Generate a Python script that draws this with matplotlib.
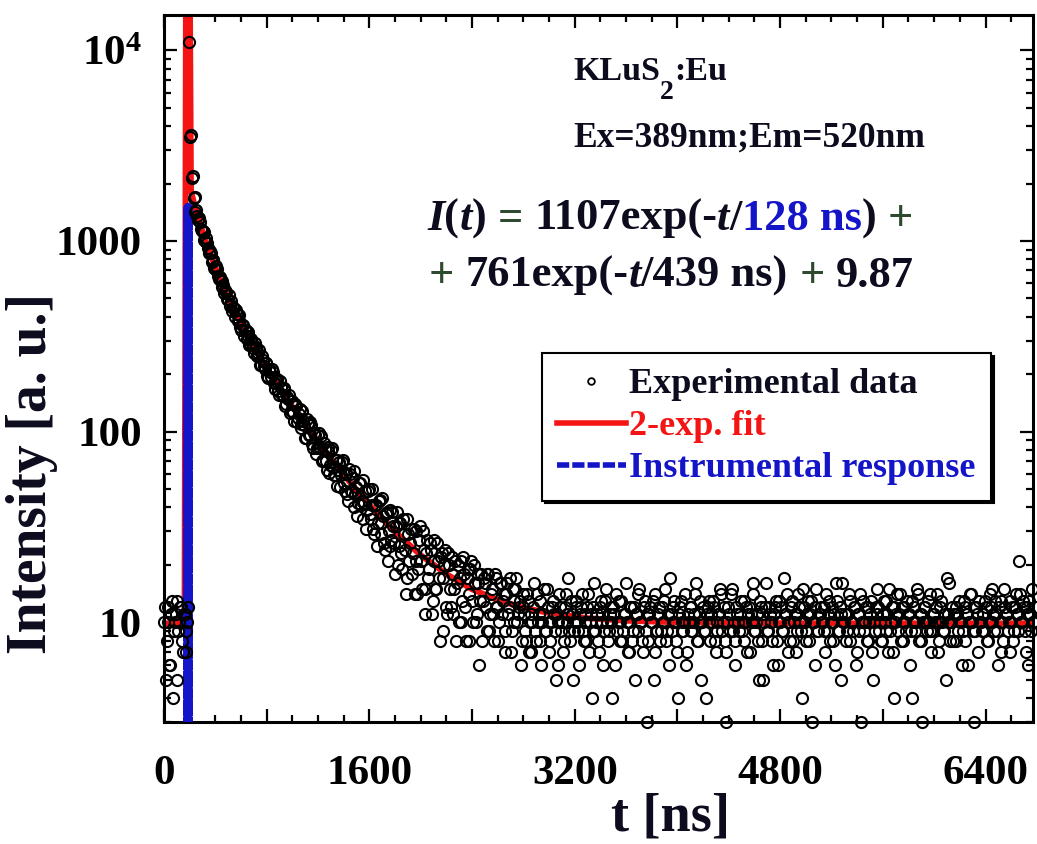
import numpy as np
import matplotlib
matplotlib.use('Agg')
import matplotlib.pyplot as plt
from matplotlib.lines import Line2D
from matplotlib.ticker import MultipleLocator, FuncFormatter, LogLocator, NullFormatter

# --- donnees ---
# canaux de 7 ns : canaux pairs (t = 0, 14, 28 ...) et impairs (t = 7, 21, 35 ...)
pas_ns = 14
avant_pic = [10, 5, 12, 6, 11, 4, 10, 13, 9, 12, 8, 11, 7, 10]
declin = [11000, 3600, 2200, 1700,
          1450, 1290, 1250, 1130, 1120, 1000, 970, 860, 865, 792, 725, 735,
          655, 645, 572, 590, 550, 497, 519, 466, 428, 443, 436, 379,
          381, 340, 362, 341, 305, 331, 289, 290, 257, 279, 252, 267,
          224, 238, 214, 228, 191, 205, 213, 179, 180, 188, 156, 172,
          155, 169, 140, 149, 125, 144, 127, 139, 112, 124, 110, 128,
          108, 93, 111, 96, 108, 82, 96, 82, 98, 82, 70, 87,
          70, 79, 61, 80, 65, 59, 71, 63, 51, 69, 54, 60,
          47, 64, 49, 57, 40, 51, 42, 54, 43, 35, 49, 39,
          50, 35, 41, 29, 41, 33, 44, 29, 36, 24, 38, 30,
          25, 38, 26, 32, 20, 33, 23, 35, 24, 17, 29, 26,
          18, 31, 21, 14, 27, 21, 30, 15, 23, 17, 26, 11,
          21, 15, 26, 17, 22, 9, 20, 12, 23, 15, 18, 11,
          21, 16, 10, 21, 13, 18, 8, 19, 14, 21, 10, 16,
          11, 18, 13, 8, 17, 12, 18, 9, 14, 11, 18, 12,
          8, 16, 11, 14, 9, 16, 12, 7, 15, 10, 17, 11, 13, 8]
fond = [12, 9, 14, 7, 11, 10, 16, 8, 10, 13, 6, 11, 9, 15, 10,
        8, 12, 11, 5, 10, 14, 9, 7, 12, 10, 17, 8, 11, 9, 13,
        10, 6, 12, 9, 11, 8, 14, 10, 4, 12, 9, 11, 7, 13, 10,
        9, 15, 8, 11, 10, 12, 6, 9, 13, 10, 8, 11, 16, 7, 10,
        12, 9, 5, 11, 14, 10, 8, 12, 9, 3, 11, 10, 13, 7, 9,
        11, 8, 12, 10, 15, 9, 6, 11, 10, 13, 8, 4, 12, 10, 9,
        14, 7, 10, 12, 9, 11, 16, 8, 10, 5, 12, 9, 11, 13, 8,
        10, 12, 7, 9, 11, 14, 10, 8, 3, 12, 9, 15, 10, 6, 11,
        9, 13, 10, 8, 12, 11, 7, 10, 14, 9, 11, 5, 12, 8, 10,
        16, 9, 11, 10, 6, 12, 8, 13, 10, 9, 17, 11, 7, 10, 12,
        8, 11, 9, 14, 10, 4, 12, 9, 11, 8, 13, 10, 6, 15, 9,
        11, 10, 12, 7, 9, 13, 10, 8, 11, 16, 9, 12, 5, 10, 11,
        9, 14, 8, 10, 12, 6, 11, 9, 3, 13, 10, 8, 12, 11, 7,
        10, 12, 15, 9, 8, 11, 10, 13, 7, 9, 12, 4, 10, 14, 11,
        8, 10, 12, 9, 11, 6, 13, 10, 9, 15, 8, 11, 3, 12, 10,
        13, 9, 7, 11, 10, 14, 8, 12, 10, 9, 5, 11, 16, 10, 8,
        11, 12, 9, 10, 6, 13, 8, 11, 10, 14, 9, 3, 12, 7, 10,
        9, 11, 13, 8, 10, 12, 15, 9, 11, 6, 10, 13, 8, 12, 11,
        10, 7, 12, 9, 14, 11, 21, 10, 13, 9, 12, 6, 11, 15, 10]

avant_pic_b = [12, 8, 10, 6, 13, 9, 11, 5, 10, 12, 7, 11, 9, 12]
declin_b = [3500, 2150, 1680, 1420,
            1350, 1320, 1150, 1130, 1015, 1030, 913, 884, 775, 793, 712, 716,
            631, 623, 615, 536, 542, 491, 453, 483, 444, 399, 415, 409,
            355, 362, 317, 340, 318, 285, 307, 273, 290, 248, 257, 223,
            248, 220, 230, 196, 212, 194, 206, 168, 184, 164, 185, 156,
            166, 137, 151, 156, 128, 139, 114, 136, 118, 131, 105, 114,
            93, 116, 96, 112, 86, 98, 76, 96, 83, 95, 71, 81,
            63, 83, 67, 82, 59, 71, 52, 69, 59, 71, 49, 61,
            43, 60, 48, 62, 47, 36, 54, 41, 56, 42, 31, 49,
            37, 50, 31, 41, 25, 43, 33, 45, 26, 37, 21, 39,
            27, 32, 18, 38, 25, 33, 19, 29, 14, 35, 21, 31,
            23, 14, 30, 19, 32, 15, 24, 11, 27, 19, 24, 13,
            27, 15, 21, 8, 23, 17, 24, 11, 20, 12, 22, 15,
            8, 20, 17, 10, 22, 12, 17, 8, 19, 13, 20, 10,
            16, 6, 18, 13, 16, 9, 18,
            11, 15, 8, 17, 12, 10, 16, 13, 7, 14, 11, 17, 9, 13, 15, 10, 12, 6, 14]
fond_b = [11, 8, 13, 10, 7, 12, 9, 14, 11, 8, 10, 15, 9, 12, 7,
          10, 13, 9, 11, 6, 12, 10, 8, 14, 11, 9, 13, 5, 10, 12,
          9, 11, 14, 8, 10, 12, 7, 11, 9, 16, 10, 8, 12, 11, 6,
          13, 10, 9, 12, 4, 11, 14, 10, 8, 13, 9, 11, 10, 7, 12,
          8, 12, 11, 9, 15, 10, 7, 13, 11, 8, 12, 10, 5, 14, 9,
          12, 9, 10, 13, 8, 11, 17, 9, 12, 10, 7, 11, 13, 9, 10,
          6, 11, 12, 9, 10, 14, 8, 11, 13, 10, 9, 4, 12, 10, 11,
          13, 8, 10, 11, 15, 9, 12, 7, 10, 11, 14, 9, 8, 12, 10,
          11, 9, 13, 10, 7, 12, 11, 16, 9, 10, 8, 13, 11, 5, 12,
          9, 12, 10, 8, 11, 13, 6, 10, 12, 9, 11, 14, 10, 8, 13,
          10, 7, 11, 12, 9, 15, 10, 8, 13, 11, 3, 10, 12, 9, 11,
          12, 10, 9, 14, 11, 8, 12, 10, 6, 13, 9, 11, 16, 10, 8,
          11, 13, 10, 9, 12, 7, 11, 14, 10, 9, 12, 8, 10, 13, 5,
          9, 11, 12, 10, 8, 13, 9, 11, 15, 10, 7, 12, 11, 9, 14,
          12, 8, 10, 13, 11, 9, 4, 12, 10, 14, 11, 8, 10, 12, 9,
          10, 14, 9, 11, 12, 7, 10, 13, 9, 11, 17, 10, 8, 12, 11,
          8, 11, 13, 10, 9, 12, 11, 6, 14, 10, 12, 9, 11, 13, 10,
          11, 9, 12, 8, 14, 10, 11, 13, 9, 12, 7, 10, 15, 11, 9,
          13, 10, 8, 12, 11, 9, 14, 10, 12, 7, 11, 13, 9, 10, 12]

comptes = avant_pic + declin + fond
comptes_b = avant_pic_b + declin_b + fond_b
t_mes = np.arange(len(comptes)) * pas_ns
t_mes_b = np.arange(len(comptes_b)) * pas_ns + pas_ns / 2

# courbe d'ajustement (2 exponentielles)
t_fit = [0, 160, 172, 200, 210, 240, 280, 330, 400, 470, 540, 620, 700, 800, 900,
         1000, 1100, 1200, 1300, 1400, 1500, 1600, 1800, 2000, 2200, 2400, 2600,
         2800, 3000, 3300, 3600, 4000, 4500, 5000, 6000, 6800]
I_fit = [9.87, 9.87, 30000, 30000, 1830, 1515, 1237, 977, 725, 555, 439, 344, 276, 214, 169,
         135, 109, 88.5, 72, 59.5, 49.3, 41.2, 29.8, 22.5, 17.9, 14.9, 13.1,
         11.9, 11.2, 10.5, 10.2, 10.0, 9.93, 9.87, 9.87, 9.87]

# reponse instrumentale
t_irf = [186, 187, 188]
I_irf = [1, 1500, 1]

rouge = '#f41414'
bleu = '#1414c8'
noir = '#0c0c1e'
vert = '#2e4a2e'

plt.rcParams['font.family'] = 'Liberation Serif'
plt.rcParams['font.weight'] = 'bold'
plt.rcParams['mathtext.fontset'] = 'custom'
plt.rcParams['mathtext.rm'] = 'Liberation Serif:bold'
plt.rcParams['mathtext.bf'] = 'Liberation Serif:bold'
plt.rcParams['mathtext.it'] = 'Liberation Serif:italic:bold'

W, H = 1037, 844
fig = plt.figure(figsize=(W / 100, H / 100), dpi=100)
ax = fig.add_axes([164 / W, 1 - 722 / H, (1033 - 164) / W, (722 - 15) / H])

ax.plot(t_fit, I_fit, color=rouge, lw=4.3, zorder=2)
ax.plot(t_irf, I_irf, color=bleu, lw=6.6, ls=(0, (3.0, 0.12)), zorder=3)
style_pts = dict(ls='none', marker='o', ms=8.0, mfc='none', mec='black', mew=1.5,
                 clip_on=False, zorder=4)
ax.plot(t_mes, comptes, **style_pts)
ax.plot(t_mes_b, comptes_b, **style_pts)

ax.set_yscale('log')
ax.set_xlim(0, 6770)
ax.set_ylim(3.0, 15300)

ax.xaxis.set_major_locator(MultipleLocator(800))
ax.xaxis.set_minor_locator(MultipleLocator(200))
ax.xaxis.set_major_formatter(FuncFormatter(lambda v, p: '%d' % v if round(v) % 1600 == 0 else ''))
ax.yaxis.set_major_locator(LogLocator(base=10, numticks=10))
ax.yaxis.set_minor_locator(LogLocator(base=10, subs=range(2, 10), numticks=20))
ax.yaxis.set_minor_formatter(NullFormatter())
etiq_y = {10: '10', 100: '100', 1000: '1000', 10000: r'$\mathbf{10^4}$'}
ax.yaxis.set_major_formatter(FuncFormatter(lambda v, p: etiq_y.get(int(round(v)), '')))

ax.tick_params(which='both', direction='in', top=True, right=True, width=1.6, colors='black')
ax.tick_params(which='major', length=9.5, labelsize=31)
ax.tick_params(which='minor', length=5)
ax.tick_params(axis='x', pad=24)
ax.tick_params(axis='y', pad=16)
for s in ax.spines.values():
    s.set_linewidth(2.2)

fig.text(32 / W, 1 - 473 / H, 'Intensity [a. u.]', rotation=90, ha='center', va='center',
         fontsize=40, color=noir)
fig.text(611 / W, 1 - 842 / H, 't [ns]', ha='left', va='bottom', fontsize=39, color=noir)

rend = fig.canvas.get_renderer()


def ligne_couleurs(x, y, morceaux, taille):
    # place les morceaux de texte les uns a la suite des autres
    # morceau : (texte, couleur, italique[, decalage vertical px, taille])
    xf = x / W
    for m in morceaux:
        s, c, ital = m[:3]
        dy = m[3] if len(m) > 3 else 0
        tl = m[4] if len(m) > 4 else taille
        if s == ' ':
            xf += 0.25 * tl * 100 / 72 / W
            continue
        txt = fig.text(xf, 1 - (y + dy) / H, s, color=c, fontsize=tl, va='baseline', ha='left',
                       fontstyle='italic' if ital else 'normal')
        bb = txt.get_window_extent(renderer=rend)
        xf = bb.x1 / W


ligne_couleurs(573, 80, [('KLuS', noir, 0), ('2', noir, 0, 19, 20), (':Eu', noir, 0)], 24.5)
ligne_couleurs(573, 147, [('Ex=389nm;Em=520nm', noir, 0)], 25.5)

ligne_couleurs(427, 230, [('I', noir, 1), ('(', noir, 0), ('t', noir, 1), (')', noir, 0), (' ', 0, 0),
                          ('=', vert, 0), (' ', 0, 0), ('1107exp(-', noir, 0), ('t', noir, 1),
                          ('/', noir, 0), ('128 ns', bleu, 0), (')', noir, 0), (' ', 0, 0),
                          ('+', vert, 0)], 32)
ligne_couleurs(429, 287, [('+', vert, 0), (' ', 0, 0), ('761exp(-', noir, 0), ('t', noir, 1),
                          ('/439 ns)', noir, 0), (' ', 0, 0), ('+', vert, 0), (' ', 0, 0),
                          ('9.87', noir, 0)], 32)

# legende avec des traits plus fins que sur le graphe
poignees = [Line2D([], [], ls='none', marker='o', ms=4.8, mfc='none', mec='black', mew=1.3),
            Line2D([], [], color=rouge, lw=4.0),
            Line2D([], [], color=bleu, lw=4.0, ls=(0, (2.2, 0.55)))]
noms = ['Experimental data', '2-exp. fit', 'Instrumental response']
leg = ax.legend(poignees, noms, loc='upper left',
                bbox_to_anchor=(542 / W, 1 - 353 / H), bbox_transform=fig.transFigure,
                borderaxespad=0, fontsize=26, handlelength=1.9, handletextpad=0.1,
                labelspacing=0.24, borderpad=0.42, numpoints=1,
                fancybox=False, shadow={'color': 'black', 'alpha': 1},
                labelcolor=[noir, rouge, bleu], framealpha=1)
leg.get_frame().set_edgecolor('black')
leg.get_frame().set_linewidth(1.5)

fig.savefig('out.png', dpi=100)
